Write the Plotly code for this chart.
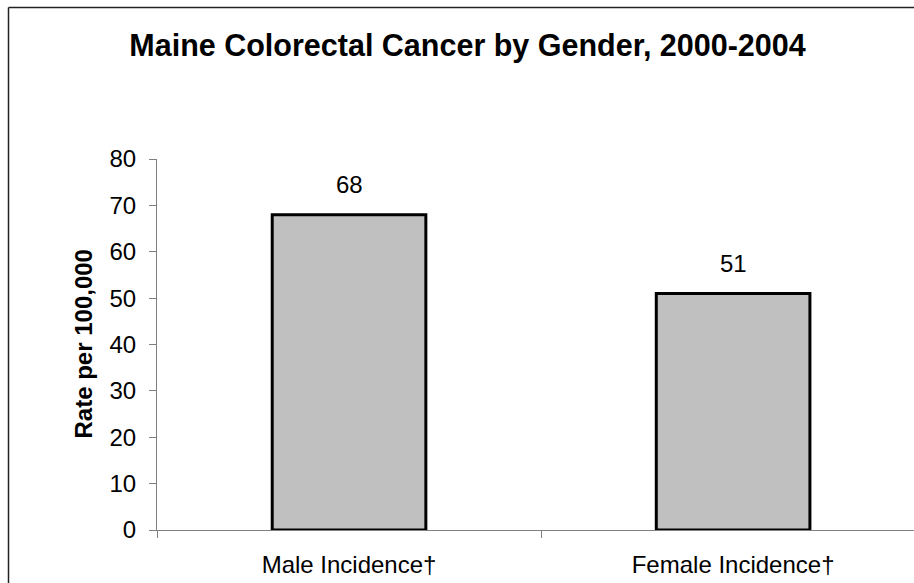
import plotly.graph_objects as go

categories = ["Male Incidence†", "Female Incidence†"]
values = [68, 51]
y_ticks = [0, 10, 20, 30, 40, 50, 60, 70, 80]
title_text = "Maine Colorectal Cancer by Gender, 2000-2004"
y_title = "Rate per 100,000"

FONT = "Liberation Sans, Arial, sans-serif"
W, H = 914, 583
ML, MR, MT, MB = 157, 0, 159, 53
pw = W - ML - MR
ph = H - MT - MB

fig = go.Figure()
fig.add_trace(go.Bar(
    x=categories, y=values,
    marker=dict(color="#C0C0C0", line=dict(color="black", width=3)),
    hoverinfo="skip",
))

for c, v in zip(categories, values):
    fig.add_annotation(x=c, y=v, text=str(v), showarrow=False,
                       xanchor="center", yanchor="middle", yshift=30,
                       font=dict(family=FONT, size=24, color="black"))

fig.add_annotation(xref="paper", yref="paper",
                   x=(83 - ML) / pw, y=0.5, text="<b>%s</b>" % y_title,
                   textangle=-90, showarrow=False,
                   xanchor="center", yanchor="middle",
                   font=dict(family=FONT, size=24, color="black"))

# outer chart border (left and top edges; right/bottom fall outside the view)
bx = (8.5 - ML) / pw
by = (H - MB - 7.5) / ph
fig.add_shape(type="line", xref="paper", yref="paper",
              x0=bx, x1=bx, y0=-0.3, y1=by,
              line=dict(color="#222222", width=1.5), layer="above")
fig.add_shape(type="line", xref="paper", yref="paper",
              x0=bx, x1=1.1, y0=by, y1=by,
              line=dict(color="#222222", width=1.5), layer="above")

fig.update_layout(
    width=W, height=H,
    margin=dict(l=ML, r=MR, t=MT, b=MB, pad=0),
    paper_bgcolor="white", plot_bgcolor="white",
    bargap=0.6, showlegend=False,
    title=dict(text="<b>%s</b>" % title_text, x=467.5 / W, xanchor="center",
               xref="container",
               y=1 - 45 / H, yanchor="middle", yref="container",
               font=dict(family=FONT, size=30.5, color="black")),
    font=dict(family=FONT, size=24, color="black"),
)
fig.update_xaxes(
    type="category", range=[-0.5, 1.471],
    showline=True, linecolor="#808080", linewidth=1,
    ticks="outside", tickson="boundaries", ticklen=7, tickcolor="#808080",
    tickfont=dict(family=FONT, size=24, color="black"),
    ticklabelstandoff=13,
    showgrid=False, zeroline=False,
)
fig.update_yaxes(
    range=[0, 80], tickvals=y_ticks,
    showline=True, linecolor="#808080", linewidth=1,
    ticks="outside", ticklen=7, tickcolor="#808080",
    tickfont=dict(family=FONT, size=24, color="black"),
    ticklabelstandoff=8,
    showgrid=False, zeroline=False,
)

fig.write_html("out.html", config={"displayModeBar": False},
               post_script="document.body.style.margin='0px';document.body.style.overflow='hidden';")
